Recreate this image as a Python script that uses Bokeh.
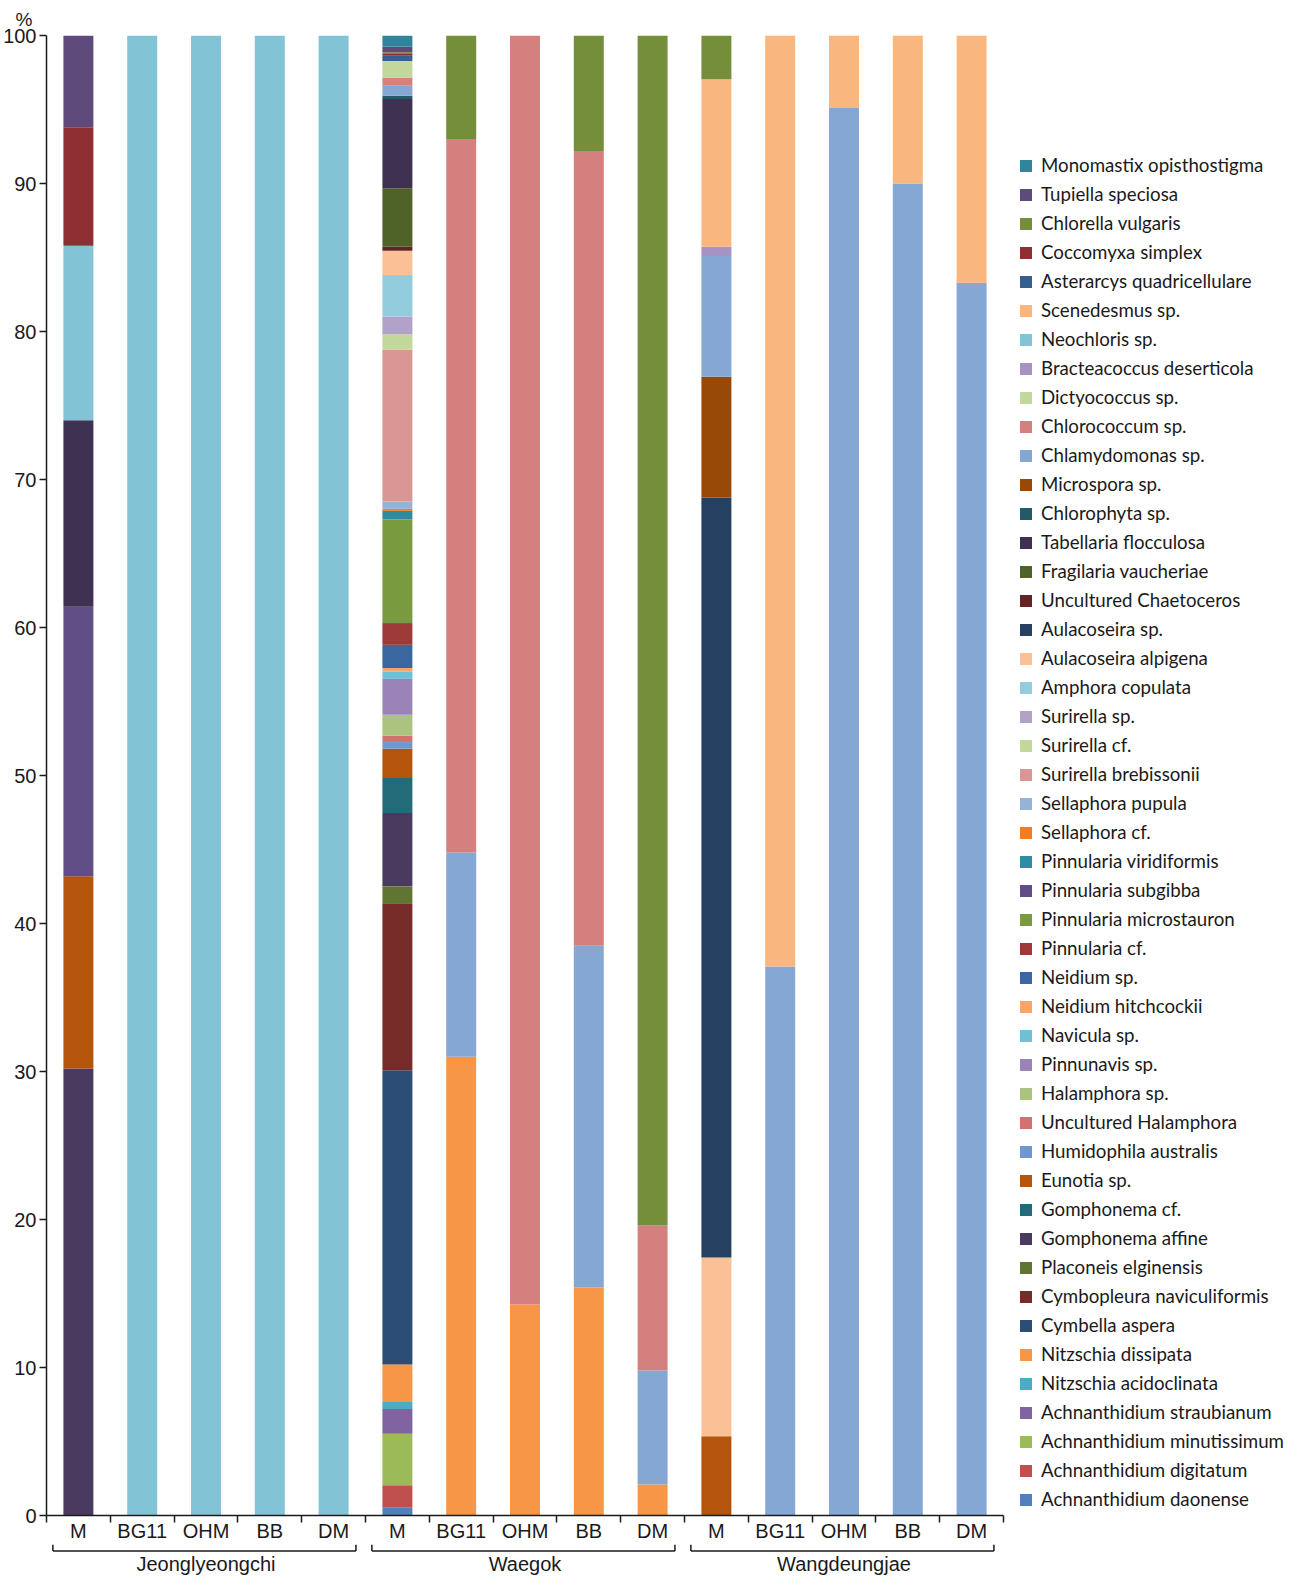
from bokeh.plotting import figure
from bokeh.models import Range1d, FixedTicker, Legend, LegendItem, ColumnDataSource
from bokeh.layouts import column
from bokeh.embed import file_html
from bokeh.resources import INLINE

# ---------------- data ----------------
sites = ["Jeonglyeongchi", "Waegok", "Wangdeungjae"]
media = ["M", "BG11", "OHM", "BB", "DM"]

species = [
    "Monomastix opisthostigma", "Tupiella speciosa", "Chlorella vulgaris", "Coccomyxa simplex",
    "Asterarcys quadricellulare", "Scenedesmus sp.", "Neochloris sp.", "Bracteacoccus deserticola",
    "Dictyococcus sp.", "Chlorococcum sp.", "Chlamydomonas sp.", "Microspora sp.",
    "Chlorophyta sp.", "Tabellaria flocculosa", "Fragilaria vaucheriae", "Uncultured Chaetoceros",
    "Aulacoseira sp.", "Aulacoseira alpigena", "Amphora copulata", "Surirella sp.",
    "Surirella cf.", "Surirella brebissonii", "Sellaphora pupula", "Sellaphora cf.",
    "Pinnularia viridiformis", "Pinnularia subgibba", "Pinnularia microstauron", "Pinnularia cf.",
    "Neidium sp.", "Neidium hitchcockii", "Navicula sp.", "Pinnunavis sp.",
    "Halamphora sp.", "Uncultured Halamphora", "Humidophila australis", "Eunotia sp.",
    "Gomphonema cf.", "Gomphonema affine", "Placoneis elginensis", "Cymbopleura naviculiformis",
    "Cymbella aspera", "Nitzschia dissipata", "Nitzschia acidoclinata", "Achnanthidium straubianum",
    "Achnanthidium minutissimum", "Achnanthidium digitatum", "Achnanthidium daonense",
]

colors = [
    "#31849B", "#5F4B7B", "#748E3A", "#8E3033",
    "#355F91", "#F9B67E", "#82C4D6", "#A692C3",
    "#C3D69B", "#D4807E", "#85A7D3", "#984807",
    "#215A69", "#3F3152", "#4F6228", "#632523",
    "#254061", "#FBC196", "#93CDDD", "#B3A2C7",
    "#C4D79B", "#D99695", "#95B3D7", "#F47B20",
    "#2F8BA4", "#624E86", "#7A9A40", "#9D3A38",
    "#3A67A0", "#F9A46A", "#6EC0D6", "#9A84B7",
    "#AAC480", "#D2716F", "#6F98D0", "#B5550B",
    "#246B7A", "#4A3A5F", "#607531", "#772C2A",
    "#2C4D75", "#F79646", "#4BACC6", "#8064A2",
    "#9BBB59", "#C0504D", "#4F81BD",
]

# relative abundance (%) in each bar
J_M = {"Gomphonema affine": 30.2, "Eunotia sp.": 13.0, "Pinnularia subgibba": 18.2,
       "Tabellaria flocculosa": 12.6, "Neochloris sp.": 11.8, "Coccomyxa simplex": 8.0,
       "Tupiella speciosa": 6.2}
J_BG11 = {"Neochloris sp.": 100.0}
J_OHM = {"Neochloris sp.": 100.0}
J_BB = {"Neochloris sp.": 100.0}
J_DM = {"Neochloris sp.": 100.0}

W_M = {"Achnanthidium daonense": 0.52, "Achnanthidium digitatum": 1.53,
       "Achnanthidium minutissimum": 3.47, "Achnanthidium straubianum": 1.68,
       "Nitzschia acidoclinata": 0.52, "Nitzschia dissipata": 2.48, "Cymbella aspera": 19.88,
       "Cymbopleura naviculiformis": 11.24, "Placoneis elginensis": 1.19,
       "Gomphonema affine": 4.95, "Gomphonema cf.": 2.37, "Eunotia sp.": 1.98,
       "Humidophila australis": 0.45, "Uncultured Halamphora": 0.43, "Halamphora sp.": 1.41,
       "Pinnunavis sp.": 2.43, "Navicula sp.": 0.50, "Neidium hitchcockii": 0.23,
       "Neidium sp.": 1.57, "Pinnularia cf.": 1.47, "Pinnularia microstauron": 7.02,
       "Pinnularia viridiformis": 0.56, "Sellaphora cf.": 0.14, "Sellaphora pupula": 0.49,
       "Surirella brebissonii": 10.25, "Surirella cf.": 1.06, "Surirella sp.": 1.19,
       "Amphora copulata": 2.81, "Aulacoseira alpigena": 1.64, "Uncultured Chaetoceros": 0.27,
       "Fragilaria vaucheriae": 3.95, "Tabellaria flocculosa": 6.03, "Chlorophyta sp.": 0.22,
       "Chlamydomonas sp.": 0.68, "Chlorococcum sp.": 0.54, "Dictyococcus sp.": 1.13,
       "Asterarcys quadricellulare": 0.36, "Coccomyxa simplex": 0.11, "Chlorella vulgaris": 0.11,
       "Tupiella speciosa": 0.38, "Monomastix opisthostigma": 0.76}
W_BG11 = {"Nitzschia dissipata": 31.0, "Chlamydomonas sp.": 13.8,
          "Chlorococcum sp.": 48.2, "Chlorella vulgaris": 7.0}
W_OHM = {"Nitzschia dissipata": 14.25, "Chlorococcum sp.": 85.75}
W_BB = {"Nitzschia dissipata": 15.4, "Chlamydomonas sp.": 23.1,
        "Chlorococcum sp.": 53.7, "Chlorella vulgaris": 7.8}
W_DM = {"Nitzschia dissipata": 2.1, "Chlamydomonas sp.": 7.7,
        "Chlorococcum sp.": 9.8, "Chlorella vulgaris": 80.4}

WD_M = {"Eunotia sp.": 5.36, "Aulacoseira alpigena": 12.08, "Aulacoseira sp.": 51.34,
        "Microspora sp.": 8.17, "Chlamydomonas sp.": 8.15, "Bracteacoccus deserticola": 0.63,
        "Scenedesmus sp.": 11.31, "Chlorella vulgaris": 2.96}
WD_BG11 = {"Chlamydomonas sp.": 37.1, "Scenedesmus sp.": 62.9}
WD_OHM = {"Chlamydomonas sp.": 95.1, "Scenedesmus sp.": 4.9}
WD_BB = {"Chlamydomonas sp.": 90.0, "Scenedesmus sp.": 10.0}
WD_DM = {"Chlamydomonas sp.": 83.3, "Scenedesmus sp.": 16.7}

bars = [J_M, J_BG11, J_OHM, J_BB, J_DM,
        W_M, W_BG11, W_OHM, W_BB, W_DM,
        WD_M, WD_BG11, WD_OHM, WD_BB, WD_DM]

y_ticks = [0, 10, 20, 30, 40, 50, 60, 70, 80, 90, 100]

# ---------------- build ----------------
n_bars = len(bars)
xs = list(range(n_bars))
data = {"x": xs}
keys = []
for i, sp in enumerate(species):
    k = "s%d" % i
    keys.append(k)
    data[k] = [b.get(sp, 0.0) for b in bars]
src = ColumnDataSource(data)

AXIS_COLOR = "#1a1a1a"
FONT = "Liberation Sans"

p = figure(frame_width=957, frame_height=1480,
           x_range=Range1d(-0.5, n_bars - 0.5), y_range=Range1d(0, 100),
           output_backend="svg", toolbar_location=None, title="%",
           min_border_left=44, min_border_top=28, min_border_bottom=0, min_border_right=280)
p.title.text_font = FONT
p.title.text_font_size = "19px"
p.title.text_font_style = "normal"
p.title.text_color = AXIS_COLOR
p.title.align = "left"
p.title.offset = -31
p.title.standoff = 12

renderers = p.vbar_stack(keys[::-1], x="x", width=0.47, source=src,
                         fill_color=colors[::-1], line_color=None)

p.xgrid.visible = False
p.ygrid.visible = False
p.outline_line_color = None
p.background_fill_color = "white"

xa = p.xaxis[0]
labels = [m for s in sites for m in media]
xa.ticker = FixedTicker(ticks=xs, minor_ticks=[i - 0.5 for i in range(n_bars + 1)])
xa.major_label_overrides = {i: lab for i, lab in enumerate(labels)}
xa.major_tick_line_color = None
xa.major_tick_out = 2
xa.major_tick_in = 0
xa.minor_tick_out = 7
xa.minor_tick_in = 0
xa.minor_tick_line_color = AXIS_COLOR
xa.minor_tick_line_width = 1.5
xa.axis_line_color = AXIS_COLOR
xa.axis_line_width = 1.5
xa.major_label_standoff = -3
xa.major_label_text_font = FONT
xa.major_label_text_font_size = "20px"
xa.major_label_text_color = AXIS_COLOR

ya = p.yaxis[0]
ya.ticker = FixedTicker(ticks=y_ticks)
ya.bounds = (0, 100)
ya.major_tick_out = 7
ya.major_tick_in = 0
ya.minor_tick_line_color = None
ya.major_tick_line_color = AXIS_COLOR
ya.major_tick_line_width = 1.5
ya.axis_line_color = AXIS_COLOR
ya.axis_line_width = 1.5
ya.major_label_standoff = 3
ya.major_label_text_font = FONT
ya.major_label_text_font_size = "20px"
ya.major_label_text_color = AXIS_COLOR

items = [LegendItem(label=sp, renderers=[r]) for sp, r in zip(species, renderers[::-1])]
legend = Legend(items=items, location=(15, 5), orientation="vertical",
                glyph_width=15, glyph_height=15, label_standoff=8,
                label_height=22, spacing=7, padding=4, margin=0,
                label_text_font="Lato", label_text_font_size="18.7px",
                label_text_color=AXIS_COLOR,
                border_line_color=None, background_fill_alpha=0)
p.add_layout(legend, "right")

# ---- second strip: site brackets and site names ----
q = figure(frame_width=957, frame_height=8, x_range=p.x_range, y_range=Range1d(-0.25, 1.0),
           output_backend="svg", toolbar_location=None, y_axis_location=None,
           min_border_left=44, min_border_right=280, min_border_top=0, min_border_bottom=0)
q.xgrid.visible = False
q.ygrid.visible = False
q.outline_line_color = None

n_media = len(media)
starts = [g * n_media - 0.5 + 0.1 for g in range(len(sites))]
ends = [g * n_media + n_media - 0.5 - 0.15 for g in range(len(sites))]
q.segment(x0=starts, y0=[0] * len(sites), x1=ends, y1=[0] * len(sites),
          line_color=AXIS_COLOR, line_width=1.5)
q.segment(x0=starts + ends, y0=[0] * (2 * len(sites)), x1=starts + ends,
          y1=[1] * (2 * len(sites)), line_color=AXIS_COLOR, line_width=1.5)

qa = q.xaxis[0]
centers = [g * n_media + (n_media - 1) // 2 for g in range(len(sites))]
qa.ticker = FixedTicker(ticks=centers, minor_ticks=[])
qa.major_label_overrides = {c: s for c, s in zip(centers, sites)}
qa.axis_line_color = None
qa.major_tick_line_color = None
qa.minor_tick_line_color = None
qa.major_tick_out = 0
qa.major_tick_in = 0
qa.major_label_standoff = 0
qa.major_label_text_font = FONT
qa.major_label_text_font_size = "20px"
qa.major_label_text_color = AXIS_COLOR

layout = column(p, q, spacing=0)
open("out.html", "w").write(file_html(layout, INLINE))
